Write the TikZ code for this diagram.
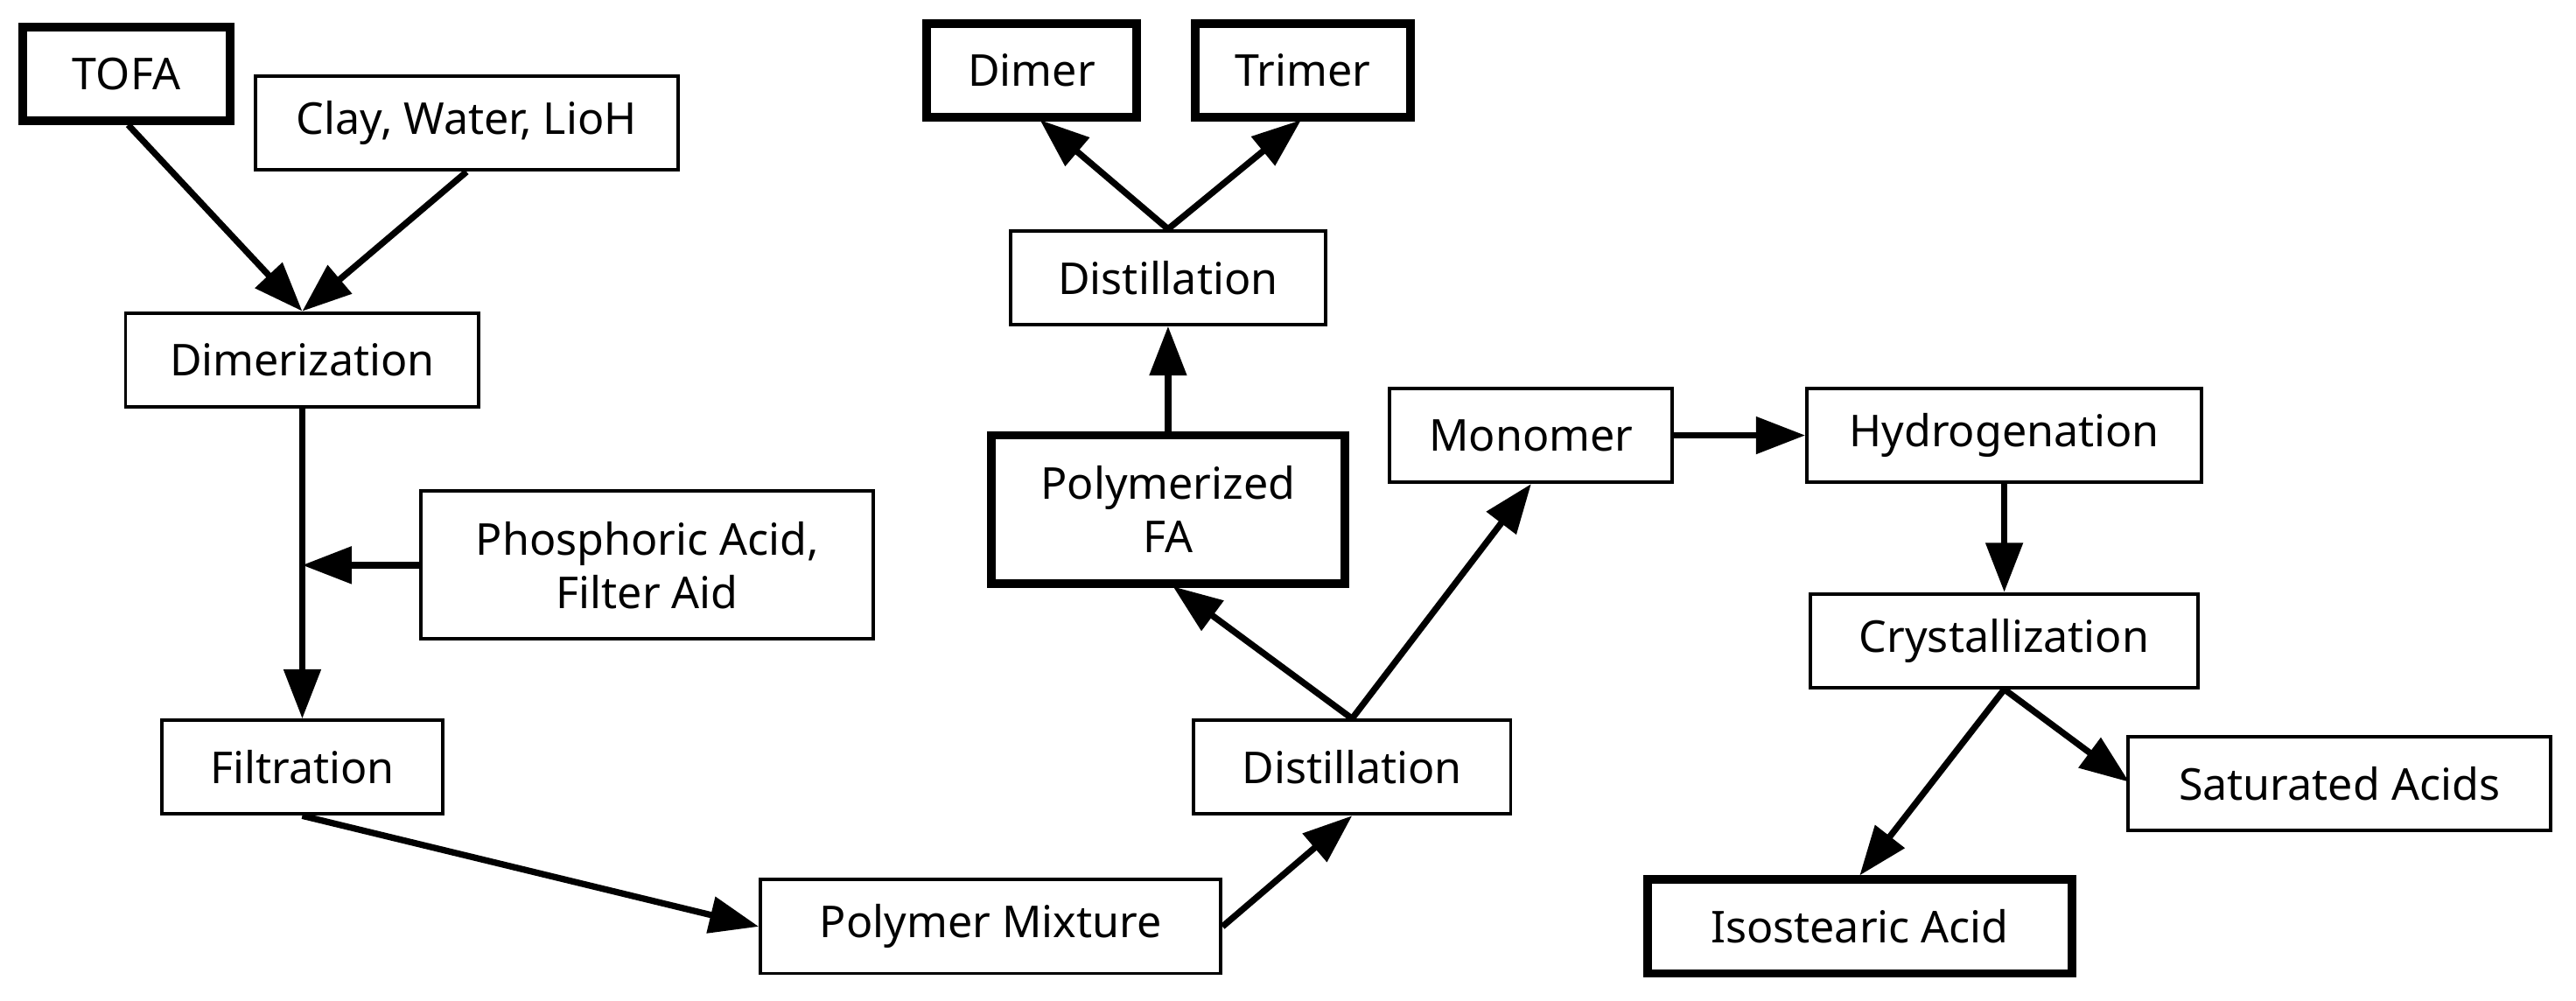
\documentclass[tikz,border=0pt]{standalone}
\usepackage{fontspec}
\setmainfont{Noto Sans}
\usetikzlibrary{arrows.meta}
\begin{document}
\begin{tikzpicture}[x=0.01cm,y=-0.01cm,
  box/.style={draw,line width=0.6pt,minimum height=0.57cm,inner sep=0pt,align=center,
    font=\fontsize{7.6}{9.2}\selectfont},
  key/.style={box,line width=1.5pt,font=\fontsize{7.6}{9.2}\selectfont\bfseries},
  flow/.style={line width=1.1pt,-{Triangle[length=0.3cm,width=0.22cm]}}]
\useasboundingbox (0,0) rectangle (1568,609);
\node[key,minimum width=1.26cm] (tofa) at (77,45) {TOFA};
\node[box,minimum width=2.57cm] (clay) at (284,75) {Clay, Water, LioH};
\node[box,minimum width=2.15cm] (dim) at (184,219) {Dimerization};
\node[box,minimum width=2.75cm,minimum height=0.9cm] (phos) at (394,344) {Phosphoric Acid,\\Filter Aid};
\node[box,minimum width=1.71cm] (filt) at (184,467) {Filtration};
\node[box,minimum width=2.8cm] (pmix) at (603,564) {Polymer Mixture};
\node[box,minimum width=1.93cm] (dist1) at (823,467) {Distillation};
\node[key,minimum width=2.15cm,minimum height=0.9cm] (pfa) at (711,310) {Polymerized\\FA};
\node[box,minimum width=1.92cm] (dist2) at (711,169) {Distillation};
\node[key,minimum width=1.28cm] (dimer) at (628,43) {Dimer};
\node[key,minimum width=1.31cm] (trimer) at (793,43) {Trimer};
\node[box,minimum width=1.72cm] (mono) at (932,265) {Monomer};
\node[box,minimum width=2.4cm] (hyd) at (1220,265) {Hydrogenation};
\node[box,minimum width=2.36cm] (cry) at (1220,390) {Crystallization};
\node[box,minimum width=2.57cm] (sat) at (1424,477) {Saturated Acids};
\node[key,minimum width=2.58cm] (iso) at (1132,564) {Isostearic Acid};
\coordinate (join) at (184,344);
\draw[flow] (78,76) -- (dim.north);
\draw[flow] (clay.south) -- (dim.north);
\draw[flow] (dim.south) -- (filt.north);
\draw[flow] (phos.west) -- (join);
\draw[flow] (filt.south) -- (pmix.west);
\draw[flow] (pmix.east) -- (dist1.south);
\draw[flow] (dist1.north) -- (714,357);
\draw[flow] (dist1.north) -- (mono.south);
\draw[flow] (pfa.north) -- (dist2.south);
\draw[flow] (dist2.north) -- (633,73);
\draw[flow] (dist2.north) -- (792,73);
\draw[flow] (mono.east) -- (hyd.west);
\draw[flow] (hyd.south) -- (cry.north);
\draw[flow] (cry.south) -- (iso.north);
\draw[flow] (cry.south) -- (1296,476);
\end{tikzpicture}
\end{document}
